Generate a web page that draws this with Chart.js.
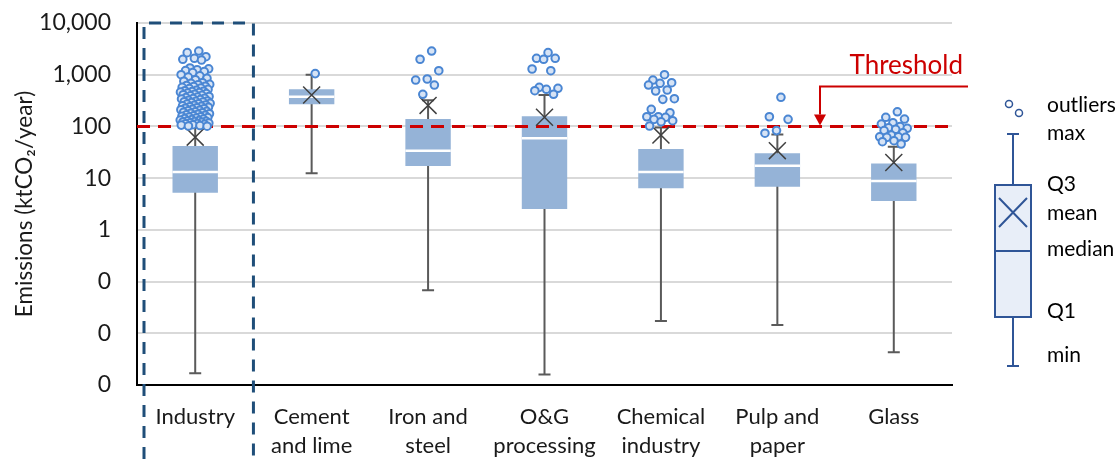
<!DOCTYPE html>
<html>
<head>
<meta charset="utf-8">
<script src="https://cdn.jsdelivr.net/npm/chart.js@4.4.0/dist/chart.umd.min.js"></script>
<style>
  html, body { margin: 0; padding: 0; background: #fff; }
</style>
</head>
<body>
<canvas id="emissions" width="1119" height="459"></canvas>
<script>
// sectors on the x axis
const categories = [
  ['Industry'],
  ['Cement', 'and lime'],
  ['Iron and', 'steel'],
  ['O&G', 'processing'],
  ['Chemical', 'industry'],
  ['Pulp and', 'paper'],
  ['Glass']
];

// box statistics per sector (ktCO2/year)
const mins    = [0.00168, 12.4, 0.068, 0.0016, 0.0172, 0.0144, 0.0043];
const q1s     = [5.2, 267, 17.1, 2.52, 6.35, 6.8, 3.6];
const medians = [13.1, 376, 33.9, 58.9, 13.1, 17.4, 8.8];
const q3s     = [41.7, 521, 139, 157, 36.5, 30.2, 19.3];
const maxes   = [95, 1000, 320, 405, 95, 70, 40.5];
const means   = [62, 405, 255, 150, 68, 34, 20];

const industryOutliers = [
  2870, 2670, 2230, 2075, 1985, 1920,
  1350, 1300, 1250, 1200, 1150, 1100, 1000, 950, 900, 850, 800, 750,
  700, 680, 650, 640, 620, 600, 590, 570, 550, 540, 520, 500, 490, 480,
  470, 460, 450, 440, 430, 420, 410, 400, 390, 380, 370, 360, 350, 345,
  340, 330, 320, 310, 305, 300, 295, 290, 280, 275, 270, 260, 255, 250,
  245, 240, 235, 230, 225, 220, 215, 210, 205, 200, 196, 192, 188, 184,
  180, 176, 172, 168, 164, 160, 157, 154, 151, 148, 145, 142, 139, 136,
  133, 130, 128, 126, 124, 122, 120, 118, 116, 114, 112, 110, 108, 106,
  104, 102, 101
];
const cementOutliers = [1050];
const ironOutliers = [2870, 1990, 1195, 826, 789, 631, 418];
const ogOutliers = [2670, 2075, 2075, 1985, 1290, 1195, 570, 546, 522, 491, 418];
const chemicalOutliers = [1000, 789, 700, 682, 632, 506, 484, 344, 334, 214, 184, 154, 154, 150, 137, 129, 123, 102];
const pulpOutliers = [366, 154, 137, 83, 74];
const glassOutliers = [192, 150, 139, 118, 111, 99, 94, 92, 88, 83, 75.5, 68, 63, 63, 61.5, 61.5, 52.9, 50.6, 45.7];

const threshold = 100;

const yTickValues = [0.001, 0.01, 0.1, 1, 10, 100, 1000, 10000];
const yTickLabels = ['0', '0', '0', '1', '10', '100', '1,000', '10,000'];

const legendLabels = ['outliers', 'max', 'Q3', 'mean', 'median', 'Q1', 'min'];

const FONT = 'Lato, "Open Sans", sans-serif';
const BOX_FILL = '#95b3d7';
const DOT_LINE = '#4a86d3';
const DOT_FILL = '#d6e3f5';
const RED = '#cc0000';

const allOutliers = [industryOutliers, cementOutliers, ironOutliers, ogOutliers,
                     chemicalOutliers, pulpOutliers, glassOutliers];

// spread the outlier dots sideways so overlapping values stay visible
const outlierPoints = [];
allOutliers.forEach((list, i) => {
  list.forEach((v, k) => {
    const spread = (((k + 1) * 0.618034) % 1 - 0.5) * 0.26;
    outlierPoints.push({ x: i + spread, y: v });
  });
});

const boxExtras = {
  id: 'boxExtras',
  beforeDatasetsDraw(chart) {
    const { ctx, scales: { x, y } } = chart;
    ctx.save();
    ctx.strokeStyle = '#5a5a5a';
    ctx.lineWidth = 2;
    mins.forEach((mn, i) => {
      const cx = x.getPixelForValue(i);
      const top = y.getPixelForValue(maxes[i]);
      const bot = y.getPixelForValue(mn);
      ctx.beginPath();
      ctx.moveTo(cx, top); ctx.lineTo(cx, bot);
      ctx.moveTo(cx - 6, top); ctx.lineTo(cx + 6, top);
      ctx.moveTo(cx - 6, bot); ctx.lineTo(cx + 6, bot);
      ctx.stroke();
    });
    ctx.restore();
  },
  afterDatasetDraw(chart, args) {
    if (args.index !== 0) return;
    const { ctx, chartArea, scales: { y } } = chart;
    const bars = chart.getDatasetMeta(0).data;
    ctx.save();
    // median lines
    ctx.strokeStyle = '#ffffff';
    ctx.lineWidth = 2.5;
    medians.forEach((m, i) => {
      const half = bars[i].width / 2;
      const yy = y.getPixelForValue(m);
      ctx.beginPath();
      ctx.moveTo(bars[i].x - half, yy);
      ctx.lineTo(bars[i].x + half, yy);
      ctx.stroke();
    });
    // threshold line
    const ty = y.getPixelForValue(threshold);
    ctx.strokeStyle = RED;
    ctx.lineWidth = 3;
    ctx.setLineDash([13, 8]);
    ctx.beginPath();
    ctx.moveTo(chartArea.left, ty);
    ctx.lineTo(chartArea.right, ty);
    ctx.stroke();
    ctx.restore();
  },
  afterDraw(chart) {
    const { ctx, chartArea, scales: { x, y } } = chart;
    ctx.save();

    // frame around the Industry column
    const half = (x.getPixelForValue(1) - x.getPixelForValue(0)) / 2;
    const fl = chartArea.left + 7;
    const fr = x.getPixelForValue(0) + half;
    ctx.strokeStyle = '#1f4e79';
    ctx.lineWidth = 3;
    ctx.setLineDash([12, 9]);
    ctx.beginPath();
    ctx.moveTo(fl, chart.height);
    ctx.lineTo(fl, chartArea.top);
    ctx.lineTo(fr, chartArea.top);
    ctx.lineTo(fr, chart.height);
    ctx.stroke();
    ctx.setLineDash([]);

    // threshold callout
    const ty = y.getPixelForValue(threshold);
    const ax = chartArea.right - 132;
    ctx.strokeStyle = RED;
    ctx.fillStyle = RED;
    ctx.lineWidth = 2;
    ctx.beginPath();
    ctx.moveTo(chartArea.right + 16, ty - 40);
    ctx.lineTo(ax, ty - 40);
    ctx.lineTo(ax, ty - 12);
    ctx.stroke();
    ctx.beginPath();
    ctx.moveTo(ax - 6, ty - 12);
    ctx.lineTo(ax + 6, ty - 12);
    ctx.lineTo(ax, ty - 1);
    ctx.closePath();
    ctx.fill();
    ctx.font = '26px ' + FONT;
    ctx.textAlign = 'right';
    ctx.textBaseline = 'middle';
    ctx.fillText('Threshold', chartArea.right + 11, ty - 61);

    // box plot key
    const kx = 1013, kl = 995, kr = 1031;
    const kq3 = 185, kq1 = 317, kmed = 251, kmax = 134, kmin = 366;
    ctx.strokeStyle = '#2f5597';
    ctx.lineWidth = 2;
    ctx.beginPath();
    ctx.moveTo(kx, kmax); ctx.lineTo(kx, kq3);
    ctx.moveTo(kx, kq1); ctx.lineTo(kx, kmin);
    ctx.moveTo(kx - 6, kmax); ctx.lineTo(kx + 6, kmax);
    ctx.moveTo(kx - 6, kmin); ctx.lineTo(kx + 6, kmin);
    ctx.stroke();
    ctx.fillStyle = '#e8eef8';
    ctx.fillRect(kl, kq3, kr - kl, kq1 - kq3);
    ctx.strokeRect(kl, kq3, kr - kl, kq1 - kq3);
    ctx.beginPath();
    ctx.moveTo(kl, kmed); ctx.lineTo(kr, kmed);
    ctx.moveTo(kx - 14, 198); ctx.lineTo(kx + 14, 227);
    ctx.moveTo(kx + 14, 198); ctx.lineTo(kx - 14, 227);
    ctx.stroke();
    ctx.lineWidth = 1.5;
    ctx.fillStyle = '#ffffff';
    [[1009, 104], [1019, 113]].forEach(([px, py]) => {
      ctx.beginPath();
      ctx.arc(px, py, 3.5, 0, Math.PI * 2);
      ctx.fill();
      ctx.stroke();
    });
    ctx.fillStyle = '#000';
    ctx.font = '21px ' + FONT;
    ctx.textAlign = 'left';
    const keyY = [105, 133, 184, 213, 249, 311, 355];
    legendLabels.forEach((t, i) => ctx.fillText(t, 1047, keyY[i]));

    ctx.restore();
  }
};

new Chart(document.getElementById('emissions'), {
  type: 'bar',
  data: {
    labels: categories,
    datasets: [
      {
        data: q1s.map((q, i) => [q, q3s[i]]),
        backgroundColor: BOX_FILL,
        grouped: false,
        barPercentage: 0.39,
        categoryPercentage: 1,
        order: 3
      },
      {
        type: 'scatter',
        xAxisID: 'xj',
        data: means.map((m, i) => ({ x: i, y: m })),
        pointStyle: 'crossRot',
        pointRadius: 12,
        borderColor: '#404040',
        borderWidth: 1.5,
        order: 2
      },
      {
        type: 'scatter',
        xAxisID: 'xj',
        data: outlierPoints,
        pointRadius: 3.8,
        borderWidth: 2,
        borderColor: DOT_LINE,
        backgroundColor: DOT_FILL,
        order: 1
      }
    ]
  },
  options: {
    responsive: false,
    animation: false,
    layout: { padding: { top: 23, right: 167, left: 0, bottom: 0 } },
    plugins: {
      legend: { display: false },
      tooltip: { enabled: false }
    },
    scales: {
      x: {
        grid: { display: false, drawTicks: false },
        border: { color: '#000', width: 2 },
        ticks: {
          color: '#1a1a1a',
          padding: 18,
          maxRotation: 0,
          autoSkip: false,
          font: { family: FONT, size: 22, lineHeight: 1.3 }
        },
        afterFit(scale) { scale.height = 74; }
      },
      xj: {
        type: 'linear',
        display: false,
        offset: false,
        grid: { offset: false },
        min: -0.5,
        max: 6.5
      },
      y: {
        type: 'logarithmic',
        min: 0.001,
        max: 10000,
        afterBuildTicks(scale) {
          scale.ticks = yTickValues.map(v => ({ value: v }));
        },
        grid: {
          color: '#d9d9d9',
          lineWidth: 2,
          drawTicks: true,
          tickLength: 24,
          tickColor: 'rgba(0,0,0,0)'
        },
        border: { color: '#000', width: 2 },
        ticks: {
          color: '#1a1a1a',
          padding: 2,
          font: { family: FONT, size: 23 },
          callback: (v, i) => yTickLabels[i]
        },
        title: {
          display: true,
          text: 'Emissions (ktCO\u2082/year)',
          color: '#1a1a1a',
          font: { family: FONT, size: 22.5 },
          padding: { top: 11, bottom: 0 }
        },
        afterFit(scale) { scale.width = 137; }
      }
    }
  },
  plugins: [boxExtras]
});
</script>
</body>
</html>
